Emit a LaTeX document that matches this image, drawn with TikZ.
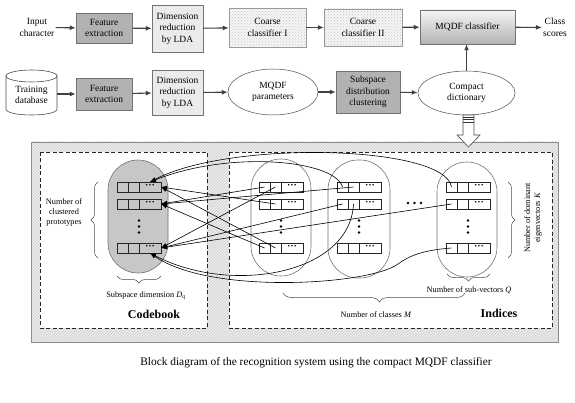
\documentclass[tikz,border=0pt]{standalone}
\usepackage{fontspec}
\setmainfont{Liberation Serif}
\usetikzlibrary{shapes.geometric,arrows.meta,decorations.pathreplacing,patterns,calc}
\newcommand\fsA{\fontsize{9.5}{11.5}\selectfont}
\newcommand\fsB{\fontsize{8.3}{10}\selectfont}
\newcommand\dotstext{\fontsize{10}{10}\selectfont\bfseries\raisebox{0.6pt}{···}}
\newcommand\cellrow[4]{%
  \node[cell,#4,minimum width=11,anchor=west] (#1a) at (#2,#3) {};
  \node[cell,#4,minimum width=11,anchor=west] (#1b) at (#1a.east) {};
  \node[cell,#4,minimum width=22,anchor=west] (#1d) at (#1b.east) {\dotstext};
}
\newcommand\vdotsat[2]{%
  \fill (#1,#2) circle (1.3);
  \fill (#1,#2+6) circle (1.3);
  \fill (#1,#2+12) circle (1.3);
}
\begin{document}
\begin{tikzpicture}[x=1pt,y=-1pt,
  flow/.style={-{Latex[length=6pt,width=5pt]}, line width=1.1pt, draw=black!75},
  box/.style={draw=black!55, line width=0.5pt, align=center, inner sep=1pt, font=\fsA},
  dark/.style={box, fill=black!30},
  light/.style={box, fill=black!8},
  coarse/.style={box, draw=black!40, preaction={fill=black!4}, pattern=crosshatch dots, pattern color=black!22},
  oval/.style={box, ellipse, draw=black!70, fill=white},
  plain/.style={align=center, font=\fsA, inner sep=1pt},
  lbl/.style={align=center, font=\fsB, inner sep=1pt},
  cell/.style={draw=black!85, line width=0.5pt, minimum height=10, inner sep=0pt, outer sep=0pt},
  cbfill/.style={fill=black!22},
  ixfill/.style={fill=white},
  column/.style={draw=black!55, line width=0.6pt, rounded corners=30, minimum width=60, inner sep=0pt},
  dbox/.style={draw=black!85, fill=white, line width=0.8pt, dash pattern=on 4pt off 2.5pt},
  brc/.style={decorate, decoration={brace, amplitude=7pt}, draw=black!70, line width=0.5pt},
  arr/.style={-{Latex[length=6pt,width=4.5pt]}, line width=0.6pt, black},
]
\useasboundingbox (0,0) rectangle (575,403);

% ---------- top row ----------
\node[plain] (inp) at (37,27.5) {Input\\character};
\node[dark, minimum width=56, minimum height=30] (fe1) at (104,28) {Feature\\extraction};
\node[light, minimum width=51, minimum height=47] (dr1) at (177.5,28.5) {Dimension\\reduction\\by LDA};
\node[coarse, minimum width=77, minimum height=39] (cc1) at (267.5,27.5) {Coarse\\classifier I};
\node[coarse, minimum width=78, minimum height=37] (cc2) at (363,27.5) {Coarse\\classifier II};
\node[box, top color=black!4, bottom color=black!30, minimum width=95, minimum height=34] (mq) at (467.5,27) {MQDF classifier};
\node[plain] (cs) at (555,27.5) {Class\\scores};
\draw[flow] (inp) -- (fe1);
\draw[flow] (fe1) -- (dr1);
\draw[flow] (dr1) -- (cc1);
\draw[flow] (cc1) -- (cc2);
\draw[flow] (cc2) -- (mq);
\draw[flow] (mq) -- (cs);

% ---------- bottom row ----------
\draw[draw=black!70, line width=0.6pt] (6,76) -- (6,109) .. controls (6,117) and (57,117) .. (57,109) -- (57,76);
\draw[draw=black!70, line width=0.6pt] (31.5,76) ellipse [x radius=25.5, y radius=6];
\node[plain, minimum width=51, minimum height=30] (db) at (31.5,95) {Training\\database};
\node[dark, minimum width=56, minimum height=32] (fe2) at (104,94) {Feature\\extraction};
\node[light, minimum width=51, minimum height=45] (dr2) at (177.5,92.5) {Dimension\\reduction\\by LDA};
\node[oval, minimum width=90, minimum height=46] (mp) at (273,92) {MQDF\\parameters};
\node[dark, minimum width=64, minimum height=42] (sd) at (368,92) {Subspace\\distribution\\clustering};
\node[oval, minimum width=97, minimum height=44] (cd) at (466.5,93) {Compact\\dictionary};
\draw[flow] (57,94) -- (fe2);
\draw[flow] (fe2) -- (dr2);
\draw[flow] (dr2) -- (mp);
\draw[flow] (mp) -- (sd);
\draw[flow] (sd) -- (cd);
\draw[flow] (cd.north) -- (cd.north |- mq.south);

% ---------- panel ----------
\path[preaction={fill=black!7}, pattern=north east lines, pattern color=black!20, draw=black!45, line width=0.6pt] (31,142) rectangle (558,342);
\draw[draw=black!70, fill=white, line width=0.6pt] (463,115) -- (463,135) -- (457,135) -- (468.5,147) -- (480,135) -- (474,135) -- (474,115) -- cycle;
\foreach \yy in {117,119.5,122} \draw[black!80, line width=0.8pt] (463,\yy) -- (474,\yy);

\draw[dbox] (40,152) rectangle (207,328);
\draw[dbox] (229,152) rectangle (552,328);

% codebook column
\node[column, fill=black!22, minimum height=113] (cbcol) at (138,216.5) {};
\cellrow{cb1}{117}{187}{cbfill}
\cellrow{cb2}{117}{204}{cbfill}
\cellrow{cb3}{117}{248}{cbfill}
\vdotsat{139}{220.5}

% index columns
\node[column, fill=white, minimum height=117] (col1) at (281,217.5) {};
\node[column, fill=white, minimum height=118, minimum width=62] (col2) at (359,219) {};
\node[column, fill=white, minimum height=115] (col3) at (467,219.5) {};
\cellrow{ia1}{259}{187}{ixfill}
\cellrow{ia2}{259}{204}{ixfill}
\cellrow{ia3}{259}{248}{ixfill}
\cellrow{ib1}{337}{187}{ixfill}
\cellrow{ib2}{337}{204}{ixfill}
\cellrow{ib3}{337}{248}{ixfill}
\cellrow{ic1}{446}{187}{ixfill}
\cellrow{ic2}{446}{204}{ixfill}
\cellrow{ic3}{446}{248}{ixfill}
\vdotsat{281}{220.5}
\vdotsat{359}{220.5}
\vdotsat{468}{220.5}
\foreach \xx in {408,414.5,421} \fill (\xx,203) circle (1.3);

% connectors
\draw[arr] (ia1a.center) -- (cb2d.east);
\draw[arr] (ia1b.center) -- (cb3d.east);
\draw[arr] (ia2b.center) -- (cb1d.east);
\draw[arr] (ia3a.center) -- (cb2d.east);
\draw[arr] (ia3b.center) -- (cb1d.east);
\draw[arr] (ib1b.center) -- (cb2d.east);
\draw[arr] (ib2a.center) -- (cb3d.east);
\draw[arr] (ic2a.center) -- (cb3d.east);
\draw[arr] (ib1a.center) .. controls (335,160) and (230,150) .. (cb1d.north);
\draw[arr] (ic1a.center) .. controls (445,145) and (230,140) .. (cb1d.north);
\draw[arr] (ib2b.center) .. controls (350,275) and (230,295) .. (cb3d.south);
\draw[arr] (ic3a.center) .. controls (425,250) and (410,255) .. (398,264) .. controls (370,285) and (210,295) .. (cb3d.south);

% labels and braces
\node[lbl] (ncp) at (64,212) {Number of\\clustered\\prototypes};
\draw[brc] (98,258) -- (98,182);
\draw[brc] (161,276) -- (117,276);
\node[lbl] (sdq) at (146,296) {Subspace dimension \textit{D}\textsubscript{\textit{q}}};
\node[font=\fontsize{12}{12}\selectfont\bfseries] (cbk) at (154,314) {Codebook};
\draw[brc] (508,182) -- (508,258);
\node[lbl, rotate=90] (ndk) at (533,218) {Number of dominant\\eigenvectors \textit{K}};
\draw[brc] (490,274) -- (447,274);
\node[lbl] (nsq) at (469,290) {Number of sub-vectors \textit{Q}};
\draw[decorate, decoration={brace, amplitude=9pt, aspect=0.47}, draw=black!70, line width=0.5pt] (465,293) -- (283,293);
\node[lbl] (ncm) at (376,315) {Number of classes \textit{M}};
\node[font=\fontsize{12}{12}\selectfont\bfseries] (idx) at (499,313) {Indices};

% caption
\node[font=\fontsize{11.4}{12}\selectfont] (cap) at (316,363) {Block diagram of the recognition system using the compact MQDF classifier};
\end{tikzpicture}
\end{document}
